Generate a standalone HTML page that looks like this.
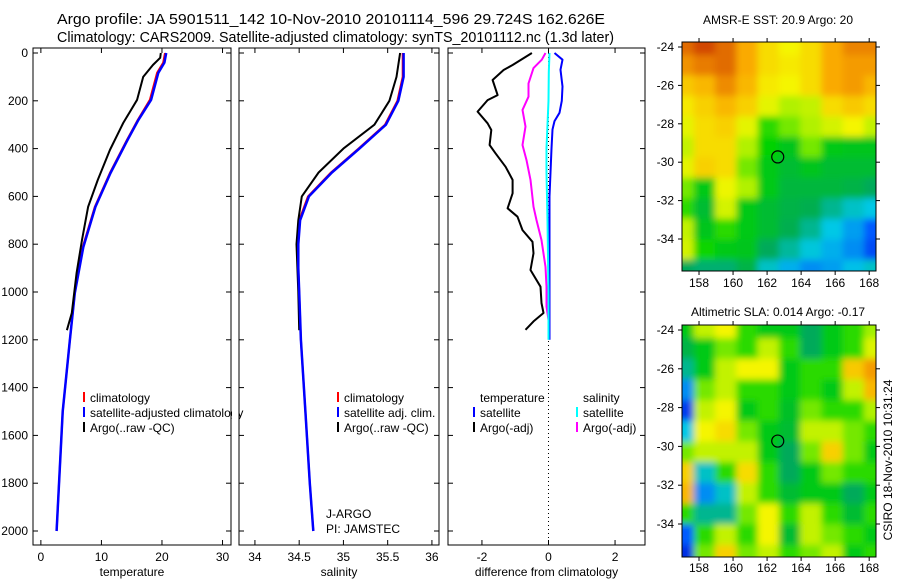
<!DOCTYPE html>
<html><head><meta charset="utf-8"><style>
html,body{margin:0;padding:0;background:#fff;}
svg{display:block;font-family:"Liberation Sans",sans-serif;}
text{fill:#000;}
</style></head><body>
<svg id="c" width="900" height="580" viewBox="0 0 900 580">
<defs>
<filter id="bl" x="-10%" y="-10%" width="120%" height="120%"><feGaussianBlur stdDeviation="3.5"/></filter>
<clipPath id="cm1"><rect x="682" y="42" width="194" height="229"/></clipPath>
<clipPath id="cm2"><rect x="682" y="325" width="194" height="232"/></clipPath>
</defs>
<text x="57" y="24" font-size="15" textLength="548" lengthAdjust="spacingAndGlyphs">Argo profile: JA 5901511_142 10-Nov-2010 20101114_596 29.724S 162.626E</text>
<text x="57" y="42" font-size="15" textLength="557" lengthAdjust="spacingAndGlyphs">Climatology: CARS2009. Satellite-adjusted climatology: synTS_20101112.nc (1.3d later)</text>
<text x="778" y="24" font-size="12" text-anchor="middle">AMSR-E SST: 20.9 Argo: 20</text>
<text x="778" y="316" font-size="12" text-anchor="middle">Altimetric SLA: 0.014 Argo: -0.17</text>
<text transform="translate(892,460) rotate(-90)" font-size="12" text-anchor="middle">CSIRO 18-Nov-2010 10:31:24</text>
<g id="g"></g>
</svg>
<script>
// ---- data ----
const depthTicks=[0,200,400,600,800,1000,1200,1400,1600,1800,2000];
const tempTicks=[0,10,20,30];
const salTicks=[34,34.5,35,35.5,36];
const diffTicks=[-2,0,2];
const climDepth=[0,40,83,196,280,364,502,644,812,1004,1200,1500,2000];
const tempClim=[20.5,20.2,19.2,18,16,14.2,11.4,8.9,6.9,5.6,4.8,3.6,2.6];
const tempSat=[20.7,20.4,19.4,18.2,16.1,14.3,11.5,9.0,7.0,5.6,4.8,3.6,2.6];
const argoDepth=[0,20,50,100,196,293,406,531,644,782,920,1088,1160];
const tempArgo=[19.8,19.7,18.5,16.9,15.9,13.6,11.4,9.4,7.8,6.8,5.9,5.1,4.3];
const salDepth=[0,100,200,300,400,500,600,700,800,900,1000,1200,1500,1800,2000];
const salClim=[35.67,35.67,35.61,35.47,35.17,34.86,34.6,34.5,34.49,34.49,34.5,34.52,34.57,34.62,34.66];
const salSat=[35.68,35.68,35.62,35.48,35.18,34.87,34.61,34.51,34.49,34.49,34.5,34.52,34.57,34.62,34.66];
const salArgoDepth=[0,100,200,300,400,500,600,700,800,900,1000,1160];
const salArgo=[35.64,35.6,35.52,35.35,35.0,34.72,34.53,34.49,34.47,34.48,34.49,34.5];
const dtDepth=[0,50,71,113,176,197,245,294,322,385,420,476,531,587,650,685,741,790,838,908,978,1046,1088,1123,1158];
const dtArgo=[-0.5,-1.08,-1.35,-1.68,-1.53,-1.83,-2.13,-1.83,-1.72,-1.77,-1.59,-1.29,-1.08,-1.08,-1.23,-0.93,-0.78,-0.48,-0.45,-0.54,-0.24,-0.21,-0.15,-0.45,-0.69];
const dsDepth=[0,28,63,127,183,238,308,385,448,531,643,699,783,895,978,1061,1145,1190];
const dsArgo=[-0.09,-0.2,-0.45,-0.6,-0.6,-0.78,-0.69,-0.78,-0.66,-0.54,-0.45,-0.36,-0.21,-0.09,-0.06,-0.06,0.03,0.03];
const dsSatDepth=[0,80,200,300,400,500,700,1000,1200];
const dsSat=[0.03,0.01,0,-0.03,-0.06,-0.06,-0.03,0,0];
const dtSatDepth=[0,28,70,140,200,250,285,320,400,500,600,800,1000,1200];
const dtSat=[0.18,0.42,0.36,0.42,0.4,0.33,0.18,0.12,0.09,0.06,0.03,0.03,0.03,0.03];
const lonTicks=[158,160,162,164,166,168];
const latTicks=[-24,-26,-28,-30,-32,-34];
const sstGrid=[
[0.88,0.93,0.88,0.8,0.72,0.68,0.72,0.8,0.85,0.85],
[0.83,0.86,0.88,0.8,0.72,0.7,0.72,0.8,0.82,0.82],
[0.75,0.78,0.84,0.78,0.7,0.68,0.72,0.8,0.82,0.78],
[0.7,0.74,0.78,0.74,0.66,0.6,0.62,0.72,0.75,0.72],
[0.66,0.72,0.74,0.66,0.5,0.55,0.6,0.64,0.68,0.62],
[0.62,0.72,0.72,0.6,0.47,0.44,0.55,0.45,0.44,0.44],
[0.66,0.74,0.72,0.55,0.45,0.42,0.44,0.42,0.42,0.42],
[0.55,0.45,0.67,0.6,0.45,0.41,0.41,0.41,0.4,0.38],
[0.5,0.42,0.64,0.45,0.42,0.4,0.39,0.33,0.28,0.25],
[0.62,0.44,0.5,0.45,0.42,0.39,0.33,0.25,0.2,0.12],
[0.64,0.48,0.45,0.44,0.38,0.32,0.26,0.22,0.18,0.1],
[0.38,0.36,0.36,0.4,0.28,0.22,0.18,0.2,0.24,0.28]];
const slaGrid=[
[0.45,0.62,0.68,0.5,0.45,0.45,0.38,0.45,0.5,0.58],
[0.4,0.45,0.55,0.5,0.62,0.5,0.38,0.45,0.5,0.65],
[0.33,0.45,0.62,0.68,0.68,0.45,0.5,0.5,0.75,0.82],
[0.18,0.55,0.62,0.5,0.5,0.45,0.5,0.45,0.62,0.78],
[0.08,0.62,0.68,0.45,0.5,0.43,0.55,0.5,0.5,0.6],
[0.25,0.68,0.72,0.55,0.45,0.42,0.62,0.62,0.55,0.5],
[0.55,0.62,0.62,0.62,0.45,0.38,0.55,0.74,0.55,0.45],
[0.74,0.28,0.5,0.72,0.5,0.38,0.45,0.55,0.5,0.5],
[0.78,0.18,0.28,0.62,0.5,0.42,0.45,0.45,0.38,0.45],
[0.5,0.33,0.33,0.55,0.68,0.5,0.62,0.5,0.42,0.5],
[0.12,0.5,0.62,0.5,0.68,0.42,0.62,0.55,0.5,0.45],
[0.06,0.55,0.74,0.55,0.62,0.5,0.55,0.62,0.45,0.5]];
const floatLon=162.626, floatLat=-29.724;

// ---- drawing ----
const NS="http://www.w3.org/2000/svg";
const G=document.getElementById('g');
function mk(tag,attrs,parent){const e=document.createElementNS(NS,tag);for(const k in attrs)e.setAttribute(k,attrs[k]);(parent||G).appendChild(e);return e;}
function txt(x,y,s,size,anchor,parent){const t=mk('text',{x:x,y:y,'font-size':size,'text-anchor':anchor||'start'},parent);t.textContent=s;return t;}
const Y0=53,Y1=531;
function yD(d){return Y0+(d/2000)*(Y1-Y0);}

function panel(name,L,R,x0,x1,ticks,label,showY){
  const sx=v=>L+(v-x0)/(x1-x0)*(R-L);
  const fr=mk('rect',{x:L,y:48,width:R-L,height:497,fill:'none',stroke:'#000','stroke-width':1});
  
  
  ticks.forEach(t=>{const x=sx(t);
    mk('line',{x1:x,x2:x,y1:545,y2:540,stroke:'#000'});mk('line',{x1:x,x2:x,y1:48,y2:53,stroke:'#000'});
    const tl=txt(x,561,String(t),12,'middle');
    
    });
  depthTicks.forEach(d=>{const y=yD(d);
    mk('line',{x1:L,x2:L+5,y1:y,y2:y,stroke:'#000'});mk('line',{x1:R,x2:R-5,y1:y,y2:y,stroke:'#000'});
    if(showY){const tl=txt(28,y+4,String(d),12,'end');
      
      }});
  const xt=txt((L+R)/2,576,label,12,'middle');
  
  
  return sx;
}
function line(sx,vals,depths,color,w,name){
  const pts=vals.map((v,i)=>sx(v).toFixed(1)+','+yD(depths[i]).toFixed(1)).join(' ');
  const p=mk('polyline',{points:pts,fill:'none',stroke:color,'stroke-width':w,'stroke-linejoin':'round'});
  
  
}
function legend(x,y,items,name){
  items.forEach((it,i)=>{const yy=y+i*15;
    mk('rect',{x:x,y:yy-10,width:2,height:10,fill:it[0]});
    const t=txt(x+7,yy,it[1],12);
    
    });
}

const sT=panel('temperature-panel',33,231,-1.3,31.4,tempTicks,'temperature',true);
line(sT,tempClim,climDepth,'#f00',2,'temperature-climatology-line');
line(sT,tempSat,climDepth,'#00f',2.5,'temperature-satellite-line');
line(sT,tempArgo,argoDepth,'#000',2,'temperature-argo-line');
legend(83,402,[['#f00','climatology'],['#00f','satellite-adjusted climatology'],['#000','Argo(..raw -QC)']],'temperature-legend');
mk('rect',{x:232,y:380,width:7,height:60,fill:'#fff'});
mk('line',{x1:231,x2:231,y1:48,y2:545,stroke:'#000'});

const sS=panel('salinity-panel',239,439,33.82,36.08,salTicks,'salinity',false);
line(sS,salClim,salDepth,'#f00',2,'salinity-climatology-line');
line(sS,salArgo,salArgoDepth,'#000',2,'salinity-argo-line');
line(sS,salSat,salDepth,'#00f',2.5,'salinity-satellite-line');
legend(337,402,[['#f00','climatology'],['#00f','satellite adj. clim.'],['#000','Argo(..raw -QC)']],'salinity-legend');
const j1=txt(326,518,'J-ARGO',12);
const j2=txt(326,533,'PI: JAMSTEC',12);

const sD=panel('difference-panel',448,645,-3.02,2.9,diffTicks,'difference from climatology',false);
mk('line',{x1:sD(0),x2:sD(0),y1:53,y2:545,stroke:'#000','stroke-dasharray':'1,3'});
line(sD,dtArgo,dtDepth,'#000',2,'temperature-diff-argo-line');
line(sD,dsArgo,dsDepth,'#f0f',2,'salinity-diff-argo-line');
line(sD,dtSat,dtSatDepth,'#00f',2,'temperature-diff-satellite-line');
line(sD,dsSat,dsSatDepth,'#0ff',2,'salinity-diff-satellite-line');
const lt=txt(480,402,'temperature',12);
const ls=txt(583,402,'salinity',12);
legend(473,417,[['#00f','satellite'],['#000','Argo(-adj)']],'diff-legend-temperature');
legend(576,417,[['#0ff','satellite'],['#f0f','Argo(-adj)']],'diff-legend-salinity');

function cmap(v){
  const stops=[[0,[0,0,200]],[0.12,[0,90,255]],[0.25,[0,200,230]],[0.38,[0,170,90]],[0.47,[0,210,0]],[0.58,[160,240,0]],[0.68,[245,245,0]],[0.8,[250,170,0]],[0.93,[210,70,0]],[1,[180,20,0]]];
  for(let i=1;i<stops.length;i++){if(v<=stops[i][0]){const a=stops[i-1],b=stops[i],t=(v-a[0])/(b[0]-a[0]);
    return 'rgb('+a[1].map((c,k)=>Math.round(c+(b[1][k]-c)*t)).join(',')+')';}}
  return 'rgb(180,20,0)';
}
function map(name,L,T,R,B,latTop,latBot,grid,clip,lonLabelY){
  const lx=v=>L+(v-157)/(168.4-157)*(R-L);
  const ly=v=>latTop+(v-(-24))/(-34-(-24))*(latBot-latTop);
  const g=mk('g',{'clip-path':'url(#'+clip+')'});
  
  
  const g2=mk('g',{filter:'url(#bl)'},g);
  const nr=grid.length,nc=grid[0].length;
  const lon0=156.5,lon1=169,lat0=-23.4,lat1=-36.2;
  grid.forEach((row,r)=>row.forEach((v,c)=>{
    const xa=lx(lon0+(lon1-lon0)*c/nc),xb=lx(lon0+(lon1-lon0)*(c+1)/nc);
    const ya=ly(lat0+(lat1-lat0)*r/nr),yb=ly(lat0+(lat1-lat0)*(r+1)/nr);
    const cell=mk('rect',{x:xa-1,y:ya-1,width:xb-xa+2,height:yb-ya+2,fill:cmap(v)},g2);
    
    
  }));
  const fr=mk('rect',{x:L,y:T,width:R-L,height:B-T,fill:'none',stroke:'#000'});
  
  
  lonTicks.forEach(t=>{const x=lx(t);mk('line',{x1:x,x2:x,y1:B,y2:B+4,stroke:'#000'});mk('line',{x1:x,x2:x,y1:T,y2:T-4,stroke:'#000'});
    const tl=txt(x,lonLabelY,String(t),12,'middle');});
  latTicks.forEach(t=>{const y=ly(t);mk('line',{x1:L,x2:L-4,y1:y,y2:y,stroke:'#000'});mk('line',{x1:R,x2:R+4,y1:y,y2:y,stroke:'#000'});
    const tl=txt(674,y+4,String(t),12,'end');});
  const c=mk('circle',{cx:lx(floatLon),cy:ly(floatLat),r:6,fill:'none',stroke:'#000','stroke-width':1.2});
  
  
}
map('sst-map',682,42,876,271,47,239,sstGrid,'cm1',287);
map('sla-map',682,325,876,557,330,524,slaGrid,'cm2',572);
</script>
</body></html>
